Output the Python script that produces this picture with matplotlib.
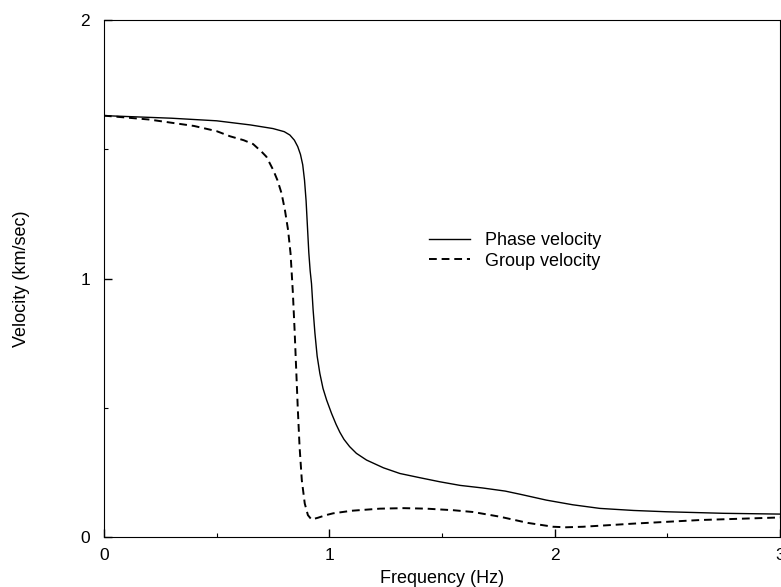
import numpy as np
import matplotlib
matplotlib.use("Agg")
import matplotlib.pyplot as plt
from matplotlib.ticker import MultipleLocator

plt.rcParams['font.family'] = ['Liberation Sans', 'DejaVu Sans']

# ----------------------------
# Data
# ----------------------------
phase_f = [0.0, 0.3, 0.5, 0.65, 0.75, 0.80, 0.825, 0.845, 0.86, 0.872,
           0.882, 0.89, 0.897, 0.903, 0.909, 0.915, 0.921, 0.928, 0.936,
           0.946, 0.958, 0.972, 0.988, 1.01, 1.03, 1.047, 1.065, 1.09,
           1.12, 1.165, 1.24, 1.313, 1.40, 1.49, 1.58, 1.68, 1.78, 1.85,
           1.963, 2.08, 2.2, 2.35, 2.495, 2.75, 3.0]
phase_v = [1.63, 1.62, 1.61, 1.594, 1.58, 1.568, 1.555, 1.535, 1.51, 1.48,
           1.44, 1.38, 1.30, 1.20, 1.10, 1.03, 0.98, 0.88, 0.79,
           0.70, 0.633, 0.575, 0.530, 0.478, 0.436, 0.405, 0.378, 0.350,
           0.324, 0.298, 0.268, 0.246, 0.23, 0.214, 0.20, 0.19, 0.178, 0.165,
           0.143, 0.125, 0.111, 0.103, 0.098, 0.092, 0.089]

group_f = [0.0, 0.2, 0.4, 0.5, 0.56, 0.62, 0.662, 0.70, 0.721, 0.751,
           0.77, 0.788, 0.803, 0.817, 0.828, 0.838, 0.846, 0.853, 0.86,
           0.868, 0.878, 0.891, 0.905, 0.921, 0.95, 0.985, 1.017, 1.1,
           1.224, 1.33, 1.431, 1.55, 1.638, 1.756, 1.88, 1.993, 2.05,
           2.125, 2.347, 2.643, 3.0]
group_v = [1.63, 1.615, 1.59, 1.57, 1.55, 1.535, 1.52, 1.49, 1.471, 1.42,
           1.38, 1.33, 1.265, 1.188, 1.097, 0.95, 0.80, 0.65, 0.50,
           0.35, 0.22, 0.13, 0.085, 0.068, 0.075, 0.085, 0.092, 0.102,
           0.110, 0.112, 0.110, 0.104, 0.097, 0.079, 0.055, 0.040, 0.038,
           0.040, 0.052, 0.066, 0.076]

# ----------------------------
# Plot
# ----------------------------
fig = plt.figure(figsize=(7.81, 5.87), dpi=100)
ax = fig.add_axes([0.133, 0.085, 0.866, 0.881])

ax.plot(phase_f, phase_v, color="black", linewidth=1.0, label="Phase velocity")
ax.plot(group_f, group_v, color="black", linewidth=1.4, linestyle=(0, (4, 2.5)),
        label="Group velocity")

ax.set_xlim(0, 3)
ax.set_ylim(0, 2)
ax.xaxis.set_major_locator(MultipleLocator(1))
ax.xaxis.set_minor_locator(MultipleLocator(0.5))
ax.yaxis.set_major_locator(MultipleLocator(1))
ax.yaxis.set_minor_locator(MultipleLocator(0.5))
ax.tick_params(which="major", direction="in", length=6, width=1, labelsize=12.5, pad=8)
ax.tick_params(which="minor", direction="in", length=3, width=0.8)
ax.tick_params(axis="y", pad=10)

ax.set_xlabel("Frequency (Hz)", fontsize=13, labelpad=5)
ax.set_ylabel("Velocity (km/sec)", fontsize=13, labelpad=36)

ax.legend(loc="upper left", bbox_to_anchor=(0.457, 0.621), frameon=False,
          fontsize=13, handlelength=2.27, handletextpad=0.83, labelspacing=0.2)

fig.savefig("out.png", dpi=100)
